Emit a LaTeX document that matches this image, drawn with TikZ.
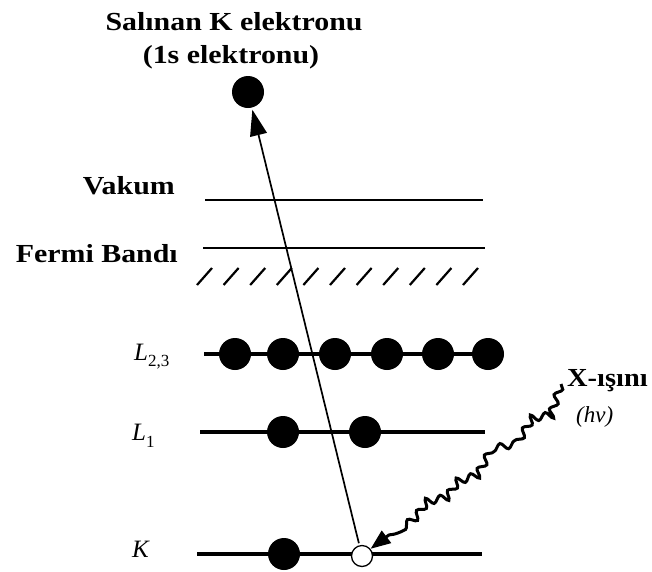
\documentclass[tikz,border=0pt]{standalone}
\usepackage{fontspec}
\setmainfont{Liberation Serif}
\usetikzlibrary{arrows.meta, decorations.pathmorphing}
\tikzset{
	lvl/.style={line width=3.4pt},
	thinlvl/.style={line width=2.2pt},
	hatchmark/.style={line width=2.2pt},
	edot/.style={circle, fill=black, inner sep=0pt, minimum size=32pt},
	hole/.style={circle, draw=black, line width=1.3pt, inner sep=0pt, minimum size=21pt},
	blabel/.style={font=\bfseries\fontsize{26}{30}\selectfont, inner sep=0pt, xscale=1.15},
	ilabel/.style={font=\itshape\fontsize{25}{28}\selectfont, inner sep=0pt},
	earr/.style={-{Triangle[length=26pt,width=17pt]}, line width=1.7pt},
	xarr/.style={-{Triangle[length=20pt,width=15pt]}, line width=3pt,
		decorate, decoration={snake, amplitude=3.4pt, segment length=15pt, post length=22pt}}
}

\begin{document}
\begin{tikzpicture}[x=1pt, y=-1pt]
	\useasboundingbox (0,0) rectangle (652,571);
	% labels
	\node[blabel, anchor=base] (title1) at (234,30) {Salınan K elektronu};
	\node[blabel, anchor=base] (title2) at (231,63) {(1s elektronu)};
	\node[blabel, anchor=base east] (vak) at (175,194) {Vakum};
	\node[blabel, anchor=base east] (fermi) at (178,262) {Fermi Bandı};
	\node[ilabel, anchor=base west] (lab23) at (134,360) {L\raisebox{-6pt}{\upshape\fontsize{17}{20}\selectfont 2,3}};
	\node[ilabel, anchor=base west] (lab1) at (132,440) {L\raisebox{-7pt}{\upshape\fontsize{17}{20}\selectfont 1}};
	\node[ilabel, anchor=base west] (labk) at (132,557) {K};
	\node[blabel, anchor=base west, xscale=0.95] (xlab) at (567,386) {X-ışını};
	\node[ilabel, anchor=base west, font=\itshape\fontsize{23}{26}\selectfont] (hv) at (576,422) {(\textit{hν})};
	% levels
	\draw[thinlvl] (205,200) coordinate (vw) -- (483,200) coordinate (ve);
	\draw[thinlvl] (203,248) coordinate (fw) -- (485,248) coordinate (fe);
	\foreach \i in {0,...,10}
		\draw[hatchmark] ({197+26.6*\i},285) -- ++(15,-17);
	\draw[lvl] (204,354) coordinate (l23w) -- (500,354) coordinate (l23e);
	\draw[lvl] (200,432) coordinate (l1w) -- (485,432) coordinate (l1e);
	\draw[lvl] (197,554) coordinate (kw) -- (482,554) coordinate (ke);
	% electrons
	\foreach \x [count=\n] in {235,283,335,387,438,488}
		\node[edot] (a\n) at (\x,354) {};
	\node[edot] (b1) at (283,432) {};
	\node[edot] (b2) at (365,432) {};
	\node[edot] (c1) at (284,554) {};
	\node[hole, fill=white] (hole) at (362,556) {};
	\node[edot] (free) at (248,92) {};
	% transitions
	\coordinate (xsrc) at (561,384);
	\draw[earr, shorten <=2pt, shorten >=2pt] (hole) -- (free);
	\draw[xarr] (xsrc) -- (552,412) -- (528,416) -- (512,442) -- (492,446) -- (478,472)
		-- (458,478) -- (444,498) -- (420,503) -- (406,522) -- (hole.40);
\end{tikzpicture}
\end{document}
